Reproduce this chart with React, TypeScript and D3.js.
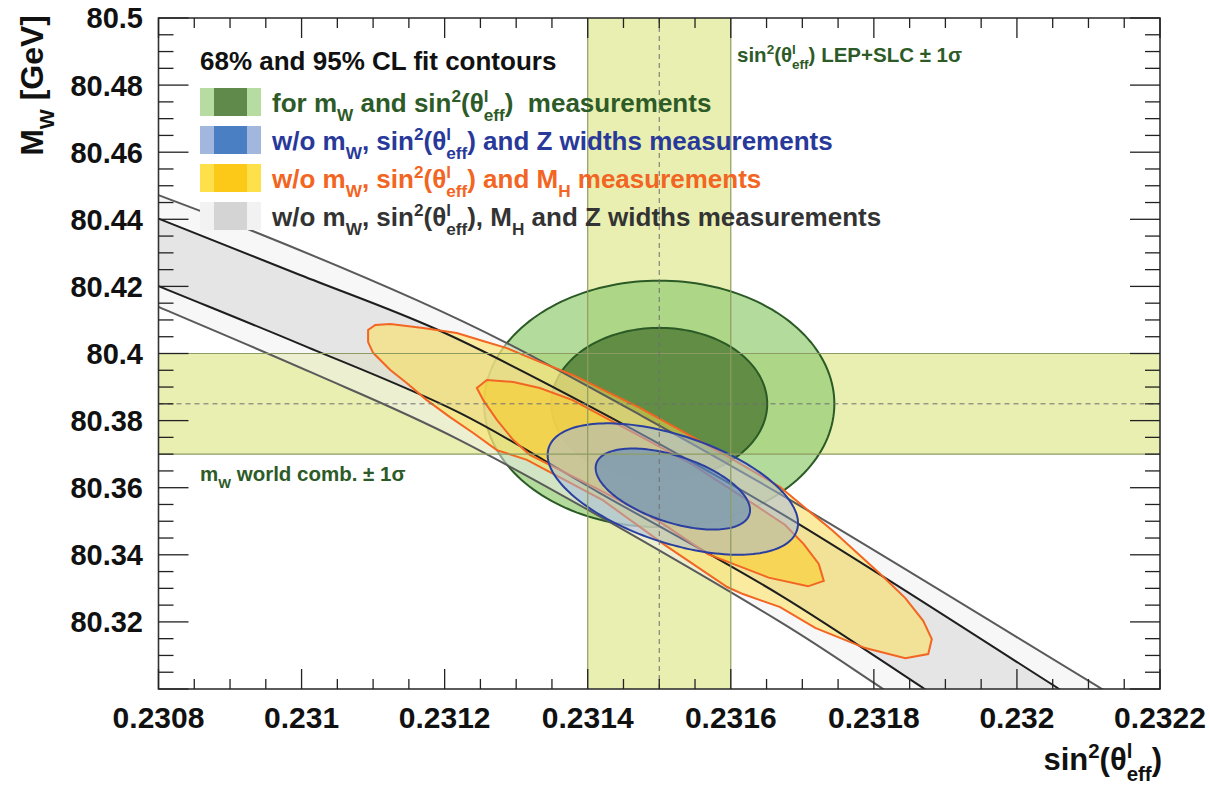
import React from 'react';
import * as d3 from 'd3';

// ---------- data ----------
const xDomain: [number, number] = [0.2308, 0.2322];
const yDomain: [number, number] = [80.3, 80.5];
const xTickValues = [0.2308, 0.231, 0.2312, 0.2314, 0.2316, 0.2318, 0.232, 0.2322];
const xTickLabels = ['0.2308', '0.231', '0.2312', '0.2314', '0.2316', '0.2318', '0.232', '0.2322'];
const yTickValues = [80.32, 80.34, 80.36, 80.38, 80.4, 80.42, 80.44, 80.46, 80.48, 80.5];
const yTickLabels = ['80.32', '80.34', '80.36', '80.38', '80.4', '80.42', '80.44', '80.46', '80.48', '80.5'];
const xMinorStep = 0.00005;
const yMinorStep = 0.005;

const sinBand: [number, number] = [0.2314, 0.2316];
const sinCentral = 0.2315;
const mwBand: [number, number] = [80.37, 80.4];
const mwCentral = 80.385;

// 95% / 68% CL radius for 2 dof
const clRadius = [2.4477, 1.5096];
const greenFit = { cx: 0.2315, cy: 80.385, sx: 0.0001, sy: 0.015, rho: 0 };
const blueFit = { cx: 0.231519, cy: 80.3596, sx: 0.0000715, sy: 0.008, rho: -0.52 };

// grey band (w/o mW, sin2, MH, Z widths)
const greyUpper95: [number, number][] = [
  [0.2306, 80.4635], [0.2308, 80.4472], [0.230935, 80.4362], [0.231161, 80.4159],
  [0.231287, 80.4031], [0.231473, 80.3817], [0.231669, 80.3581], [0.232119, 80.3], [0.232197, 80.29],
];
const greyUpper68: [number, number][] = [
  [0.2306, 80.4572], [0.2308, 80.4402], [0.230998, 80.4234], [0.231191, 80.407],
  [0.231399, 80.3847], [0.231669, 80.3525], [0.232059, 80.3], [0.232133, 80.29],
];
const greyLower68: [number, number][] = [
  [0.2306, 80.4376], [0.2308, 80.4201], [0.230998, 80.4028], [0.231221, 80.3823],
  [0.231417, 80.3584], [0.231669, 80.328], [0.231871, 80.3], [0.231943, 80.29],
];
const greyLower95: [number, number][] = [
  [0.2306, 80.4322], [0.2308, 80.4139], [0.231012, 80.3945], [0.231221, 80.3742],
  [0.231669, 80.32], [0.231813, 80.3], [0.231885, 80.29],
];

// yellow contours (w/o mW, sin2, MH)
const yellow95: [number, number][] = [
  [0.231093, 80.4034], [0.231093, 80.407], [0.231103, 80.4085], [0.231124, 80.4088],
  [0.23117, 80.4076], [0.231217, 80.4061], [0.231249, 80.404], [0.231287, 80.4016],
  [0.231333, 80.3975], [0.231379, 80.3936], [0.231473, 80.3838], [0.231557, 80.3739],
  [0.231599, 80.3689], [0.231669, 80.3602], [0.231714, 80.3522], [0.231743, 80.3471],
  [0.231809, 80.3343], [0.231844, 80.3271], [0.231869, 80.3203], [0.231881, 80.3149],
  [0.231876, 80.3104], [0.231844, 80.3092], [0.231788, 80.3122], [0.231718, 80.3182],
  [0.231669, 80.3244], [0.231617, 80.3283], [0.231595, 80.3304], [0.231508, 80.3429],
  [0.231421, 80.3563], [0.231315, 80.3683], [0.231273, 80.3712], [0.23124, 80.3763],
  [0.231207, 80.3811], [0.231175, 80.3861], [0.231147, 80.3912], [0.231124, 80.3951],
  [0.2311, 80.4002],
];
const yellow68: [number, number][] = [
  [0.231245, 80.3897], [0.231259, 80.3921], [0.231296, 80.3915], [0.231333, 80.3897],
  [0.231379, 80.3861], [0.231473, 80.3754], [0.231547, 80.3668], [0.231632, 80.3551],
  [0.231676, 80.3489], [0.231702, 80.3432], [0.231723, 80.3373], [0.23173, 80.3322],
  [0.231708, 80.3306], [0.231653, 80.3332], [0.231568, 80.3402], [0.231501, 80.3498],
  [0.231417, 80.3593], [0.231347, 80.3668], [0.231319, 80.3698], [0.231296, 80.3742],
  [0.231273, 80.3802], [0.231254, 80.3861],
];

// ---------- styles ----------
const FONT = '"Liberation Sans", Arial, Helvetica, sans-serif';
const M = { left: 158.5, right: 1160, top: 18, bottom: 689 };

type Seg = { t: string; s?: 'sup' | 'sub'; back?: number };

const SMALL = 0.66;
const Rich = ({ segs, fs }: { segs: Seg[]; fs: number }) => {
  let cur = 0;
  return (
    <>
      {segs.map((seg, i) => {
        const off = seg.s === 'sup' ? -0.4 * fs : seg.s === 'sub' ? 0.34 * fs : 0;
        const dy = off - cur;
        cur = off;
        const size = seg.s ? SMALL * fs : fs;
        return (
          <tspan key={i} dy={dy} dx={seg.back ? -seg.back * SMALL * fs : undefined} fontSize={size}>
            {seg.t}
          </tspan>
        );
      })}
    </>
  );
};

const sinTheta: Seg[] = [
  { t: 'sin' }, { t: '2', s: 'sup' }, { t: '(θ' }, { t: 'l', s: 'sup' }, { t: 'eff', s: 'sub', back: 0.278 }, { t: ')' },
];
const mW: Seg[] = [{ t: 'm' }, { t: 'W', s: 'sub' }];

const legendEntries: { segs: Seg[]; color: string; light: string; dark: string }[] = [
  { segs: [{ t: 'for ' }, ...mW, { t: ' and ' }, ...sinTheta, { t: '  measurements' }], color: '#2d5b27', light: '#b6dca2', dark: '#5f8a4c' },
  { segs: [{ t: 'w/o ' }, ...mW, { t: ', ' }, ...sinTheta, { t: ' and Z widths measurements' }], color: '#28399a', light: '#a2b7de', dark: '#4a80c3' },
  { segs: [{ t: 'w/o ' }, ...mW, { t: ', ' }, ...sinTheta, { t: ' and M' }, { t: 'H', s: 'sub' }, { t: ' measurements' }], color: '#f26522', light: '#fde04a', dark: '#fdc918' },
  { segs: [{ t: 'w/o ' }, ...mW, { t: ', ' }, ...sinTheta, { t: ', M' }, { t: 'H', s: 'sub' }, { t: ' and Z widths measurements' }], color: '#333333', light: '#f2f2f2', dark: '#d4d4d4' },
];

export default function App() {
  const x = d3.scaleLinear().domain(xDomain).range([M.left, M.right]);
  const y = d3.scaleLinear().domain(yDomain).range([M.bottom, M.top]);
  const line = d3.line<[number, number]>().x((d) => x(d[0])).y((d) => y(d[1])).curve(d3.curveCatmullRom.alpha(0.5));
  const closed = d3.line<[number, number]>().x((d) => x(d[0])).y((d) => y(d[1])).curve(d3.curveLinearClosed);

  const ellipse = (e: typeof greenFit, k: number) => {
    const pts: [number, number][] = d3.range(0, 360, 2).map((a) => {
      const t = (a * Math.PI) / 180;
      return [
        e.cx + k * e.sx * Math.cos(t),
        e.cy + k * e.sy * (e.rho * Math.cos(t) + Math.sqrt(1 - e.rho * e.rho) * Math.sin(t)),
      ];
    });
    return closed(pts) as string;
  };

  const bandPath = (upper: [number, number][], lower: [number, number][]) => {
    const a = line(upper) as string;
    const b = (line(lower.slice().reverse()) as string).replace(/^M/, 'L');
    return a + b + 'Z';
  };
  const outerBand = bandPath(greyUpper95, greyLower95);
  const innerBand = bandPath(greyUpper68, greyLower68);

  const xMinor = d3.range(0, Math.round((xDomain[1] - xDomain[0]) / xMinorStep) + 1).map((i) => xDomain[0] + i * xMinorStep);
  const yMinor = d3.range(0, Math.round((yDomain[1] - yDomain[0]) / yMinorStep) + 1).map((i) => yDomain[0] + i * yMinorStep);

  const bandEdge = '#8d9c62';
  const legendTop = 88;
  const legendStep = 38;
  const legFs = 26;

  return (
    <svg width={1210} height={785} style={{ position: 'absolute', left: 0, top: 0, background: '#fff' }} fontFamily={FONT}>
      <defs>
        <clipPath id="plotClip">
          <rect x={M.left} y={M.top} width={M.right - M.left} height={M.bottom - M.top} />
        </clipPath>
      </defs>

      <g clipPath="url(#plotClip)">
        {/* 1 sigma bands */}
        <rect x={x(sinBand[0])} y={M.top} width={x(sinBand[1]) - x(sinBand[0])} height={M.bottom - M.top} fill="#e8efb1" />
        <rect x={M.left} y={y(mwBand[1])} width={M.right - M.left} height={y(mwBand[0]) - y(mwBand[1])} fill="#e8efb1" />

        {/* green ellipses */}
        <path d={ellipse(greenFit, clRadius[0])} fill="rgb(152,206,120)" fillOpacity={0.74} stroke="#2b5a26" strokeWidth={2} />
        <path d={ellipse(greenFit, clRadius[1])} fill="rgb(70,115,45)" fillOpacity={0.74} stroke="#2b5a26" strokeWidth={2} />

        {/* grey band fills */}
        <path d={outerBand} fill="#f0f0f0" fillOpacity={0.5} />
        <path d={innerBand} fill="#d4d4d4" fillOpacity={0.5} />

        {/* yellow contour fills */}
        <path d={closed(yellow95) as string} fill="#fde04a" fillOpacity={0.5} />
        <path d={closed(yellow68) as string} fill="#fdc918" fillOpacity={0.5} />

        {/* grey band lines */}
        <path d={line(greyUpper95) as string} fill="none" stroke="#5a5a5a" strokeWidth={2} />
        <path d={line(greyLower95) as string} fill="none" stroke="#5a5a5a" strokeWidth={2} />
        <path d={line(greyUpper68) as string} fill="none" stroke="#1e1e1e" strokeWidth={2} />
        <path d={line(greyLower68) as string} fill="none" stroke="#1e1e1e" strokeWidth={2} />

        {/* yellow contour lines */}
        <path d={closed(yellow95) as string} fill="none" stroke="#f26522" strokeWidth={2} />
        <path d={closed(yellow68) as string} fill="none" stroke="#f26522" strokeWidth={2} />

        {/* blue ellipses */}
        <path d={ellipse(blueFit, clRadius[0])} fill="#a2b7de" fillOpacity={0.5} stroke="#2b3fa0" strokeWidth={2} />
        <path d={ellipse(blueFit, clRadius[1])} fill="#4a80c3" fillOpacity={0.5} stroke="#2b3fa0" strokeWidth={2} />

        {/* band edges and central lines */}
        {sinBand.map((v, i) => (
          <line key={'sb' + i} x1={x(v)} x2={x(v)} y1={M.top} y2={M.bottom} stroke={bandEdge} strokeWidth={1.2} />
        ))}
        {mwBand.map((v, i) => (
          <line key={'mb' + i} x1={M.left} x2={M.right} y1={y(v)} y2={y(v)} stroke={bandEdge} strokeWidth={1.2} />
        ))}
        <line x1={x(sinCentral)} x2={x(sinCentral)} y1={M.top} y2={M.bottom} stroke="#6f6f6f" strokeWidth={1} strokeDasharray="5,4" />
        <line x1={M.left} x2={M.right} y1={y(mwCentral)} y2={y(mwCentral)} stroke="#6f6f6f" strokeWidth={1} strokeDasharray="5,4" />
      </g>

      {/* frame & ticks */}
      <rect x={M.left} y={M.top} width={M.right - M.left} height={M.bottom - M.top} fill="none" stroke="#333" strokeWidth={1.6} />
      {xMinor.map((v, i) => {
        const major = i % 4 === 0;
        const len = major ? 20 : 10;
        return (
          <g key={'xt' + i} stroke="#222" strokeWidth={1.3}>
            <line x1={x(v)} x2={x(v)} y1={M.bottom} y2={M.bottom - len} />
            <line x1={x(v)} x2={x(v)} y1={M.top} y2={M.top + len} />
          </g>
        );
      })}
      {yMinor.map((v, i) => {
        const major = i % 4 === 0;
        const len = major ? 30 : 15;
        return (
          <g key={'yt' + i} stroke="#222" strokeWidth={1.3}>
            <line x1={M.left} x2={M.left + len} y1={y(v)} y2={y(v)} />
            <line x1={M.right} x2={M.right - len} y1={y(v)} y2={y(v)} />
          </g>
        );
      })}

      {/* tick labels */}
      {xTickValues.map((v, i) => (
        <text key={'xl' + i} x={x(v)} y={728} textAnchor="middle" fontSize={30} fontWeight="bold" fill="#111">
          {xTickLabels[i]}
        </text>
      ))}
      {yTickValues.map((v, i) => (
        <text key={'yl' + i} x={143} y={y(v)} dy="0.36em" textAnchor="end" fontSize={29} fontWeight="bold" fill="#111">
          {yTickLabels[i]}
        </text>
      ))}

      {/* axis titles */}
      <text x={1162} y={770} textAnchor="end" fontSize={31} fontWeight="bold" fill="#111" style={{ whiteSpace: 'pre' }}>
        <Rich segs={sinTheta} fs={31} />
      </text>
      <text transform="translate(43,15) rotate(-90)" textAnchor="end" fontSize={32} fontWeight="bold" fill="#111" style={{ whiteSpace: 'pre' }}>
        <Rich segs={[{ t: 'M' }, { t: 'W', s: 'sub' }, { t: ' [GeV]' }]} fs={32} />
      </text>

      {/* band labels */}
      <text x={737} y={62} fontSize={20.5} fontWeight="bold" fill="#2d5b27" style={{ whiteSpace: 'pre' }}>
        <Rich segs={[...sinTheta, { t: ' LEP+SLC ± 1σ' }]} fs={20.5} />
      </text>
      <text x={200} y={481} fontSize={20.5} fontWeight="bold" fill="#2d5b27" style={{ whiteSpace: 'pre' }}>
        <Rich segs={[...mW, { t: ' world comb. ± 1σ' }]} fs={20.5} />
      </text>

      {/* legend */}
      <text x={200} y={70} fontSize={legFs} fontWeight="bold" fill="#111">
        68% and 95% CL fit contours
      </text>
      {legendEntries.map((e, i) => {
        const yy = legendTop + i * legendStep;
        return (
          <g key={'lg' + i}>
            <rect x={200} y={yy} width={61} height={28} fill={e.light} />
            <rect x={214} y={yy} width={33} height={28} fill={e.dark} />
            <text x={272} y={yy + 24} fontSize={legFs} fontWeight="bold" fill={e.color} style={{ whiteSpace: 'pre' }}>
              <Rich segs={e.segs} fs={legFs} />
            </text>
          </g>
        );
      })}
    </svg>
  );
}
